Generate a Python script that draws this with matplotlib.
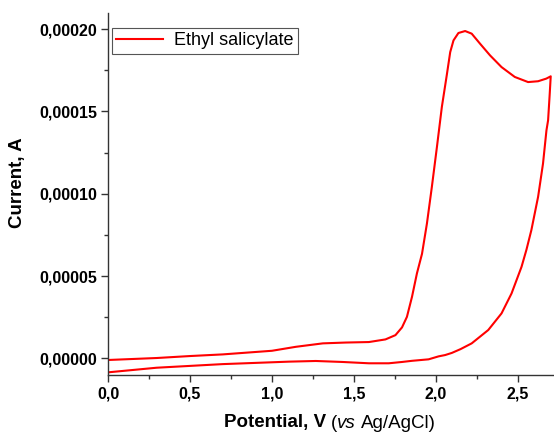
import matplotlib
matplotlib.use("Agg")
import matplotlib.pyplot as plt
from matplotlib.ticker import MultipleLocator, FuncFormatter
from matplotlib.offsetbox import TextArea, HPacker, AnchoredOffsetbox

# forward scan (upper branch): potential in V, current in uA
fwd_v = [0.0, 0.296, 0.50, 0.70, 1.0, 1.145, 1.31, 1.45, 1.591, 1.692, 1.753, 1.793,
         1.823, 1.854, 1.884, 1.915, 1.945, 1.975, 2.006, 2.036, 2.066, 2.087, 2.107,
         2.137, 2.178, 2.218, 2.269, 2.33, 2.40, 2.481, 2.562, 2.623, 2.673, 2.70]
fwd_i = [-1.0, 0.2, 1.4, 2.4, 4.6, 7.0, 9.1, 9.6, 9.9, 11.5, 14.1, 18.8,
         25.2, 37.4, 51.6, 63.5, 81.9, 104.1, 128.4, 152.7, 172.0, 186.0, 193.1,
         197.6, 198.8, 197.2, 191.1, 184.0, 176.9, 170.9, 167.8, 168.3, 169.9, 171.3]
# reverse scan (lower branch)
rev_v = [2.70, 2.694, 2.684, 2.674, 2.653, 2.623, 2.582, 2.552, 2.522, 2.461, 2.40,
         2.319, 2.218, 2.150, 2.097, 2.056, 2.016, 1.955, 1.854, 1.793, 1.712, 1.591,
         1.43, 1.267, 1.105, 0.70, 0.296, 0.0]
rev_i = [171.3, 160.8, 144.6, 138.5, 118.3, 98.1, 77.9, 66.0, 55.6, 39.4, 27.3,
         17.2, 9.1, 5.6, 3.3, 2.0, 1.2, -0.6, -1.5, -2.2, -3.0, -3.0,
         -2.2, -1.6, -2.0, -3.5, -5.7, -8.5]

potential = fwd_v + rev_v
current = [i * 1e-6 for i in fwd_i + rev_i]

plt.rcParams['font.family'] = 'Liberation Sans'

fig = plt.figure(figsize=(5.54, 4.34), dpi=100)
ax = fig.add_axes([0.195, 0.136, 0.805, 0.835])

ax.plot(potential, current, color='#ff0000', lw=1.5, label='Ethyl salicylate')

ax.set_xlim(0, 2.72)
ax.set_ylim(-0.0000101, 0.00021)
ax.xaxis.set_major_locator(MultipleLocator(0.5))
ax.xaxis.set_minor_locator(MultipleLocator(0.25))
ax.yaxis.set_major_locator(MultipleLocator(0.00005))
ax.yaxis.set_minor_locator(MultipleLocator(0.000025))
ax.xaxis.set_major_formatter(FuncFormatter(lambda v, p: f"{v:.1f}".replace('.', ',')))
ax.yaxis.set_major_formatter(FuncFormatter(lambda v, p: f"{v:.5f}".replace('.', ',')))

for s in ['top', 'right']:
    ax.spines[s].set_visible(False)
for s in ['left', 'bottom']:
    ax.spines[s].set_color('#333333')
    ax.spines[s].set_linewidth(1.0)

ax.tick_params(which='major', direction='out', length=5, width=1, color='#333333', pad=3)
ax.tick_params(which='minor', direction='out', length=3, width=1, color='#333333')
for lab in ax.get_xticklabels() + ax.get_yticklabels():
    lab.set_fontweight('bold')
    lab.set_fontsize(11.5)

# y label
fig.text(18 / 554, 1 - 183 / 434, 'Current, A', rotation=90, ha='center', va='center',
         fontsize=13.5, fontweight='bold')

# x label with mixed styles
fs = 13.5
part1 = TextArea('Potential, V', textprops=dict(fontsize=fs, fontweight='bold'))
part2 = HPacker(children=[TextArea('(', textprops=dict(fontsize=fs)),
                          TextArea('vs', textprops=dict(fontsize=fs, style='italic'))],
                sep=0, pad=0, align='baseline')
part3 = TextArea('Ag/AgCl)', textprops=dict(fontsize=fs))
xlab = HPacker(children=[part1, part2, part3], sep=3.5, pad=0, align='baseline')
abox = AnchoredOffsetbox(loc='center', child=xlab, frameon=False, pad=0, borderpad=0,
                         bbox_to_anchor=(330 / 554, 1 - 423 / 434),
                         bbox_transform=fig.transFigure)
fig.add_artist(abox)

leg = ax.legend(loc='upper left', bbox_to_anchor=(0.008, 0.958), fontsize=13,
                fancybox=False, framealpha=1, edgecolor='#555555',
                handlelength=2.6, handletextpad=0.6, borderpad=0.25, borderaxespad=0)
leg.get_frame().set_linewidth(0.8)

fig.savefig('out.png', dpi=100)
